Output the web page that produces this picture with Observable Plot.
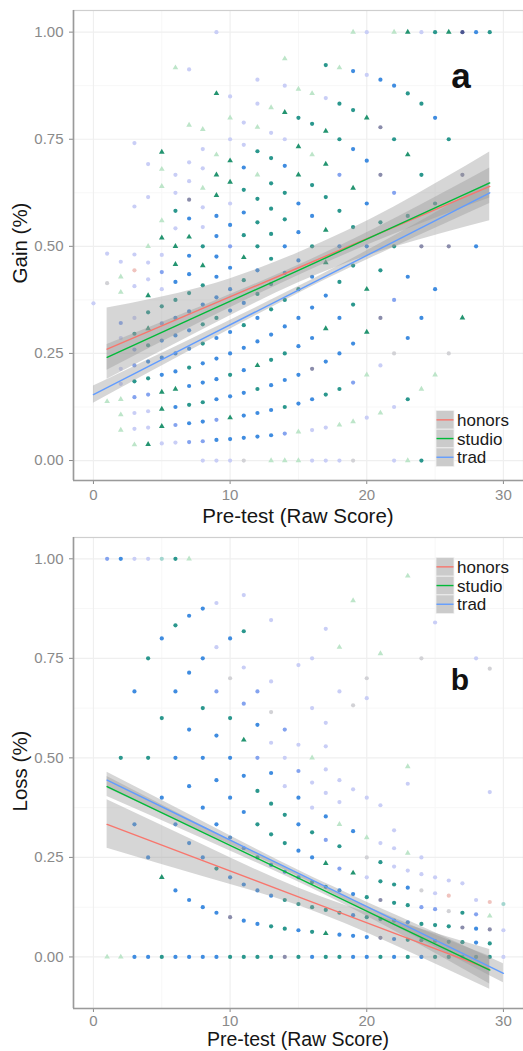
<!DOCTYPE html>
<html><head><meta charset="utf-8">
<script src="https://cdn.jsdelivr.net/npm/d3@7"></script>
<script src="https://cdn.jsdelivr.net/npm/@observablehq/plot@0.6"></script>
<style>
body{margin:0;background:#fff;font-family:"Liberation Sans",Arial,sans-serif}
#wrap{position:relative;width:523px;height:1051px;overflow:hidden}
#wrap svg{display:block}
#over{position:absolute;left:0;top:0;pointer-events:none}
</style></head><body><div id="wrap"></div>
<script>
const xTicks = [0, 10, 20, 30];
const xMinor = [5, 15, 25];
const yTicks = [0, 0.25, 0.5, 0.75, 1];
const yMinor = [0.125, 0.375, 0.625, 0.875];
const groups = ["honors", "studio", "trad"];
const groupColors = ["#F8766D", "#00BA38", "#619CFF"];
// point shade codes (result of overlapping translucent group points)
const shadeCodes = ["B","M","L","T","U","G","F","P","K","R","N"];
const shadeColors = ["#3f8ce0","#84a3ef","#c9cef6","#2a978d","#a3d6cf","#239470","#bde5c9","#8a8cab","#d2d2d6","#f0c3be","#4b5590"];

// Panel a: Gain vs pre-test  [x, y, shade]
const gainPoints = [
[0,0.367,"L"],
[1,0.483,"L"],[1,0.414,"K"],[1,0.138,"F"],
[2,0.464,"L"],[2,0.429,"F"],[2,0.393,"F"],[2,0.321,"M"],[2,0.286,"L"],[2,0.214,"L"],[2,0.179,"L"],[2,0.143,"F"],[2,0.107,"F"],[2,0.071,"F"],
[3,0.741,"L"],[3,0.593,"L"],[3,0.481,"L"],[3,0.444,"R"],[3,0.407,"L"],[3,0.333,"L"],[3,0.296,"T"],[3,0.259,"M"],[3,0.222,"M"],[3,0.185,"T"],[3,0.148,"M"],[3,0.111,"L"],[3,0.074,"L"],[3,0.037,"F"],
[4,0.692,"L"],[4,0.615,"L"],[4,0.5,"F"],[4,0.462,"L"],[4,0.423,"L"],[4,0.385,"G"],[4,0.346,"T"],[4,0.308,"G"],[4,0.269,"T"],[4,0.231,"B"],[4,0.192,"T"],[4,0.154,"M"],[4,0.115,"L"],[4,0.077,"L"],[4,0.038,"G"],
[5,0.72,"G"],[5,0.68,"F"],[5,0.64,"F"],[5,0.56,"F"],[5,0.52,"G"],[5,0.48,"L"],[5,0.44,"M"],[5,0.4,"L"],[5,0.36,"T"],[5,0.32,"M"],[5,0.28,"B"],[5,0.24,"B"],[5,0.2,"B"],[5,0.16,"G"],[5,0.12,"G"],[5,0.08,"G"],[5,0.04,"L"],
[6,0.917,"F"],[6,0.667,"L"],[6,0.625,"L"],[6,0.583,"T"],[6,0.542,"L"],[6,0.5,"G"],[6,0.458,"G"],[6,0.417,"B"],[6,0.375,"T"],[6,0.333,"B"],[6,0.292,"B"],[6,0.25,"B"],[6,0.208,"B"],[6,0.167,"G"],[6,0.125,"B"],[6,0.083,"M"],[6,0.042,"L"],
[7,0.913,"L"],[7,0.783,"F"],[7,0.696,"L"],[7,0.652,"L"],[7,0.609,"P"],[7,0.565,"B"],[7,0.522,"G"],[7,0.478,"B"],[7,0.435,"B"],[7,0.391,"T"],[7,0.348,"B"],[7,0.304,"B"],[7,0.261,"B"],[7,0.217,"T"],[7,0.174,"B"],[7,0.13,"T"],[7,0.087,"B"],[7,0.043,"M"],
[8,0.773,"F"],[8,0.727,"L"],[8,0.682,"L"],[8,0.636,"F"],[8,0.591,"L"],[8,0.545,"L"],[8,0.5,"T"],[8,0.455,"G"],[8,0.409,"T"],[8,0.364,"B"],[8,0.318,"T"],[8,0.273,"T"],[8,0.227,"B"],[8,0.182,"B"],[8,0.136,"T"],[8,0.091,"B"],[8,0.045,"M"],[8,0,"L"],
[9,1,"L"],[9,0.857,"G"],[9,0.714,"F"],[9,0.667,"G"],[9,0.619,"G"],[9,0.571,"B"],[9,0.524,"B"],[9,0.476,"B"],[9,0.429,"B"],[9,0.381,"B"],[9,0.333,"T"],[9,0.286,"B"],[9,0.238,"B"],[9,0.19,"B"],[9,0.143,"B"],[9,0.095,"M"],[9,0.048,"B"],[9,0,"L"],
[10,0.85,"L"],[10,0.8,"F"],[10,0.75,"L"],[10,0.7,"G"],[10,0.65,"G"],[10,0.6,"L"],[10,0.55,"B"],[10,0.5,"M"],[10,0.45,"B"],[10,0.4,"B"],[10,0.35,"B"],[10,0.3,"B"],[10,0.25,"B"],[10,0.2,"T"],[10,0.15,"B"],[10,0.1,"G"],[10,0.05,"B"],[10,0,"L"],
[11,0.789,"L"],[11,0.737,"L"],[11,0.684,"B"],[11,0.632,"T"],[11,0.579,"B"],[11,0.526,"T"],[11,0.474,"G"],[11,0.421,"T"],[11,0.368,"B"],[11,0.316,"T"],[11,0.263,"B"],[11,0.211,"B"],[11,0.158,"B"],[11,0.105,"B"],[11,0.053,"B"],[11,0,"K"],
[12,0.889,"L"],[12,0.833,"L"],[12,0.778,"F"],[12,0.722,"T"],[12,0.667,"F"],[12,0.611,"T"],[12,0.556,"T"],[12,0.5,"T"],[12,0.444,"B"],[12,0.389,"T"],[12,0.333,"B"],[12,0.278,"B"],[12,0.222,"G"],[12,0.167,"T"],[12,0.111,"B"],[12,0.056,"B"],
[13,0.824,"F"],[13,0.765,"L"],[13,0.706,"T"],[13,0.647,"T"],[13,0.588,"T"],[13,0.529,"T"],[13,0.471,"T"],[13,0.412,"T"],[13,0.353,"T"],[13,0.294,"B"],[13,0.235,"T"],[13,0.176,"B"],[13,0.118,"B"],[13,0.059,"B"],[13,0,"F"],
[14,0.938,"F"],[14,0.875,"L"],[14,0.813,"G"],[14,0.75,"L"],[14,0.688,"B"],[14,0.625,"T"],[14,0.563,"T"],[14,0.5,"B"],[14,0.438,"B"],[14,0.375,"T"],[14,0.313,"B"],[14,0.25,"T"],[14,0.188,"B"],[14,0.125,"T"],[14,0.063,"M"],[14,0,"F"],
[15,0.867,"F"],[15,0.8,"T"],[15,0.733,"G"],[15,0.667,"G"],[15,0.6,"B"],[15,0.533,"B"],[15,0.467,"B"],[15,0.4,"T"],[15,0.333,"B"],[15,0.267,"B"],[15,0.2,"B"],[15,0.133,"B"],[15,0.067,"F"],[15,0,"F"],
[16,0.857,"F"],[16,0.786,"T"],[16,0.714,"F"],[16,0.643,"T"],[16,0.571,"B"],[16,0.5,"T"],[16,0.429,"B"],[16,0.357,"B"],[16,0.286,"B"],[16,0.214,"P"],[16,0.143,"B"],[16,0.071,"L"],[16,0,"L"],
[17,0.923,"T"],[17,0.846,"L"],[17,0.769,"G"],[17,0.692,"G"],[17,0.615,"T"],[17,0.538,"G"],[17,0.462,"G"],[17,0.385,"B"],[17,0.308,"G"],[17,0.231,"B"],[17,0.154,"T"],[17,0.077,"L"],[17,0,"L"],
[18,0.917,"F"],[18,0.833,"T"],[18,0.75,"T"],[18,0.667,"M"],[18,0.583,"T"],[18,0.5,"B"],[18,0.417,"T"],[18,0.333,"B"],[18,0.25,"B"],[18,0.167,"T"],[18,0.083,"F"],[18,0,"L"],
[19,1,"F"],[19,0.909,"B"],[19,0.818,"T"],[19,0.727,"B"],[19,0.636,"G"],[19,0.545,"T"],[19,0.455,"T"],[19,0.364,"T"],[19,0.273,"B"],[19,0.182,"M"],[19,0.091,"F"],[19,0,"K"],
[20,1,"L"],[20,0.9,"L"],[20,0.8,"G"],[20,0.7,"B"],[20,0.6,"B"],[20,0.5,"B"],[20,0.4,"G"],[20,0.3,"G"],[20,0.2,"F"],[20,0.1,"L"],
[21,0.889,"B"],[21,0.778,"P"],[21,0.667,"P"],[21,0.556,"T"],[21,0.444,"T"],[21,0.333,"P"],[21,0.222,"L"],[21,0.111,"F"],
[22,1,"F"],[22,0.875,"B"],[22,0.75,"T"],[22,0.625,"M"],[22,0.5,"T"],[22,0.375,"M"],[22,0.25,"K"],[22,0.125,"L"],[22,0,"L"],
[23,1,"G"],[23,0.857,"T"],[23,0.714,"G"],[23,0.571,"T"],[23,0.429,"B"],[23,0.286,"B"],[23,0.143,"T"],[23,0,"F"],
[24,1,"L"],[24,0.833,"T"],[24,0.667,"T"],[24,0.5,"P"],[24,0.333,"B"],[24,0.167,"F"],[24,0,"T"],
[25,1,"T"],[25,0.8,"B"],[25,0.6,"T"],[25,0.4,"B"],[25,0.2,"F"],
[26,1,"G"],[26,0.75,"T"],[26,0.5,"P"],[26,0.25,"K"],
[27,1,"N"],[27,0.667,"P"],[27,0.333,"G"],
[28,1,"B"],[28,0.5,"B"],
[29,1,"T"]
];

// Panel b: Loss vs pre-test  [x, y, shade]
const lossPoints = [
[1,1,"M"],[1,0,"F"],
[2,1,"B"],[2,0.5,"T"],[2,0,"F"],
[3,1,"L"],[3,0.667,"B"],[3,0.333,"B"],[3,0,"B"],
[4,1,"L"],[4,0.75,"T"],[4,0.5,"T"],[4,0.25,"B"],[4,0,"B"],
[5,1,"U"],[5,0.8,"B"],[5,0.6,"T"],[5,0.4,"B"],[5,0.2,"G"],[5,0,"T"],
[6,1,"T"],[6,0.833,"T"],[6,0.667,"B"],[6,0.5,"B"],[6,0.333,"B"],[6,0.167,"B"],[6,0,"B"],
[7,1,"F"],[7,0.857,"B"],[7,0.714,"B"],[7,0.571,"B"],[7,0.429,"B"],[7,0.286,"B"],[7,0.143,"B"],[7,0,"B"],
[8,0.875,"B"],[8,0.75,"B"],[8,0.625,"T"],[8,0.5,"B"],[8,0.375,"B"],[8,0.25,"B"],[8,0.125,"B"],[8,0,"B"],
[9,0.889,"L"],[9,0.778,"L"],[9,0.667,"M"],[9,0.556,"B"],[9,0.444,"B"],[9,0.333,"B"],[9,0.222,"T"],[9,0.111,"B"],[9,0,"B"],
[10,0.8,"B"],[10,0.7,"K"],[10,0.6,"T"],[10,0.5,"B"],[10,0.4,"B"],[10,0.3,"B"],[10,0.2,"B"],[10,0.1,"P"],[10,0,"T"],
[11,0.909,"L"],[11,0.818,"T"],[11,0.727,"L"],[11,0.636,"M"],[11,0.545,"G"],[11,0.455,"B"],[11,0.364,"B"],[11,0.273,"B"],[11,0.182,"B"],[11,0.091,"B"],[11,0,"T"],
[12,0.667,"M"],[12,0.583,"B"],[12,0.5,"M"],[12,0.417,"T"],[12,0.333,"T"],[12,0.25,"T"],[12,0.167,"B"],[12,0.083,"B"],[12,0,"T"],
[13,0.846,"L"],[13,0.692,"L"],[13,0.615,"K"],[13,0.538,"L"],[13,0.462,"B"],[13,0.385,"T"],[13,0.308,"T"],[13,0.231,"B"],[13,0.154,"B"],[13,0.077,"T"],[13,0,"T"],
[14,0.571,"M"],[14,0.5,"L"],[14,0.429,"L"],[14,0.357,"T"],[14,0.286,"T"],[14,0.214,"B"],[14,0.143,"T"],[14,0.071,"T"],[14,0,"P"],
[15,0.733,"L"],[15,0.533,"L"],[15,0.467,"M"],[15,0.4,"B"],[15,0.333,"B"],[15,0.267,"B"],[15,0.2,"B"],[15,0.133,"T"],[15,0.067,"B"],[15,0,"T"],
[16,0.75,"L"],[16,0.625,"L"],[16,0.5,"F"],[16,0.438,"L"],[16,0.375,"L"],[16,0.313,"T"],[16,0.25,"B"],[16,0.188,"T"],[16,0.125,"T"],[16,0.063,"T"],[16,0,"B"],
[17,0.824,"L"],[17,0.588,"L"],[17,0.529,"L"],[17,0.471,"L"],[17,0.412,"L"],[17,0.353,"B"],[17,0.294,"M"],[17,0.235,"G"],[17,0.176,"T"],[17,0.118,"T"],[17,0.059,"G"],[17,0,"T"],
[18,0.778,"F"],[18,0.667,"L"],[18,0.444,"L"],[18,0.389,"L"],[18,0.333,"F"],[18,0.278,"T"],[18,0.222,"M"],[18,0.167,"B"],[18,0.111,"T"],[18,0.056,"B"],[18,0,"T"],
[19,0.895,"F"],[19,0.632,"K"],[19,0.421,"L"],[19,0.316,"B"],[19,0.211,"G"],[19,0.158,"B"],[19,0.105,"B"],[19,0.053,"B"],[19,0,"B"],
[20,0.7,"K"],[20,0.65,"L"],[20,0.4,"L"],[20,0.3,"F"],[20,0.25,"K"],[20,0.2,"L"],[20,0.15,"T"],[20,0.1,"T"],[20,0.05,"B"],[20,0,"B"],
[21,0.762,"F"],[21,0.381,"L"],[21,0.286,"L"],[21,0.238,"T"],[21,0.19,"T"],[21,0.143,"P"],[21,0.095,"T"],[21,0.048,"P"],[21,0,"T"],
[22,0.318,"L"],[22,0.273,"L"],[22,0.227,"L"],[22,0.182,"T"],[22,0.136,"T"],[22,0.091,"T"],[22,0.045,"B"],[22,0,"B"],
[23,0.957,"F"],[23,0.478,"F"],[23,0.435,"L"],[23,0.261,"F"],[23,0.217,"L"],[23,0.174,"B"],[23,0.13,"T"],[23,0.087,"B"],[23,0.043,"T"],[23,0,"T"],
[24,0.75,"K"],[24,0.25,"L"],[24,0.208,"L"],[24,0.167,"K"],[24,0.125,"M"],[24,0.083,"T"],[24,0.042,"T"],[24,0,"B"],
[25,0.84,"L"],[25,0.2,"L"],[25,0.16,"L"],[25,0.12,"M"],[25,0.08,"T"],[25,0.04,"T"],[25,0,"T"],
[26,0.192,"L"],[26,0.154,"R"],[26,0.115,"K"],[26,0.077,"T"],[26,0.038,"T"],[26,0,"T"],
[27,0.185,"L"],[27,0.111,"T"],[27,0.074,"P"],[27,0.037,"T"],[27,0,"B"],
[28,0.75,"L"],[28,0.143,"L"],[28,0.107,"M"],[28,0.071,"B"],[28,0.036,"B"],[28,0,"T"],
[29,0.724,"K"],[29,0.414,"L"],[29,0.138,"R"],[29,0.103,"F"],[29,0.069,"P"],[29,0.034,"T"],[29,0,"T"],
[30,0.133,"U"],[30,0.067,"L"],[30,0,"L"]
];

// Linear fits with confidence band: [group, x, fit, lower, upper]
const gainFit = [
["honors",1,0.26,0.19,0.356],["honors",8,0.355,0.305,0.405],["honors",15,0.45,0.415,0.485],["honors",22,0.545,0.498,0.592],["honors",29,0.64,0.56,0.72],
["studio",1,0.241,0.211,0.271],["studio",8,0.343,0.325,0.361],["studio",15,0.444,0.432,0.456],["studio",22,0.546,0.528,0.564],["studio",29,0.648,0.613,0.683],
["trad",0,0.154,0.134,0.174],["trad",7,0.268,0.255,0.281],["trad",15,0.398,0.39,0.406],["trad",22,0.511,0.498,0.524],["trad",29,0.625,0.60,0.65]
];
const lossFit = [
["honors",1,0.333,0.273,0.395],["honors",8,0.242,0.202,0.282],["honors",15,0.151,0.129,0.173],["honors",22,0.06,0.03,0.09],["honors",29,-0.031,-0.081,0.019],
["studio",1,0.428,0.403,0.453],["studio",8,0.313,0.297,0.329],["studio",15,0.198,0.188,0.208],["studio",22,0.082,0.066,0.098],["studio",29,-0.033,-0.068,0.002],
["trad",1,0.444,0.424,0.464],["trad",8,0.327,0.314,0.340],["trad",15,0.210,0.202,0.218],["trad",22,0.093,0.079,0.107],["trad",30,-0.041,-0.065,-0.017]
];

const xDomain = [-1.46, 31.47];

function panel(points, fit, yDomain, height, mt, mb, xPad) {
  const rows = points.map(([x, y, c]) => ({x, y, c}));
  const fr = fit.map(([g, x, f, lo, hi]) => ({g, x, f, lo, hi}));
  const isTri = r => r.c === "G" || r.c === "F";
  return Plot.plot({
    width: 523, height, marginLeft: 73, marginRight: 0, marginTop: mt, marginBottom: mb,
    style: {fontFamily: '"Liberation Sans", Arial, sans-serif', fontSize: "15px", color: "#8a8a8a", background: "white", overflow: "visible"},
    x: {domain: xDomain, ticks: xTicks, tickSize: 4, tickPadding: xPad, label: null},
    y: {domain: yDomain, ticks: yTicks, tickFormat: d3.format(".2f"), tickSize: 4, tickPadding: 6, label: null},
    color: {domain: shadeCodes, range: shadeColors},
    marks: [
      Plot.ruleX(xMinor, {stroke: "#f7f7f7", strokeWidth: 1}),
      Plot.ruleY(yMinor, {stroke: "#f7f7f7", strokeWidth: 1}),
      Plot.ruleX(xTicks, {stroke: "#efefef", strokeWidth: 1.2}),
      Plot.ruleY(yTicks, {stroke: "#efefef", strokeWidth: 1.2}),
      Plot.frame({stroke: "#cfcfcf", strokeWidth: 1.2}),
      Plot.dot(rows.filter(r => !isTri(r)), {x: "x", y: "y", fill: "c", r: 2.1}),
      Plot.dot(rows.filter(isTri), {x: "x", y: "y", fill: "c", r: 2.1, symbol: "triangle"}),
      Plot.areaY(fr, {x: "x", y1: "lo", y2: "hi", z: "g", fill: "#999999", fillOpacity: 0.4, curve: "natural"}),
      ...groups.map((g, i) => Plot.line(fr.filter(d => d.g === g), {x: "x", y: "f", stroke: groupColors[i], strokeWidth: 1.4})),
      Plot.ruleX([xDomain[0]], {stroke: "#9a9a9a", strokeWidth: 1.6}),
      Plot.ruleY([yDomain[0]], {stroke: "#9a9a9a", strokeWidth: 1.6})
    ]
  });
}

const wrap = document.getElementById("wrap");
wrap.appendChild(panel(gainPoints, gainFit, [-0.0466, 1.0505], 525, 10, 45, 5));
wrap.appendChild(panel(lossPoints, lossFit, [-0.1295, 1.0535], 526, 12, 43, 2.5));

// overlay: axis titles, panel letters, legends
const over = d3.select(wrap).append("svg").attr("id", "over").attr("width", 523).attr("height", 1051)
  .style("font-family", '"Liberation Sans", Arial, sans-serif');
const titles = [
  {t: "Pre-test (Raw Score)", x: 298, y: 522.5, s: 20.5, rot: false},
  {t: "Pre-test (Raw Score)", x: 298, y: 1046.3, s: 19.5, rot: false},
  {t: "Gain (%)", x: 27, y: 243, s: 20.5, rot: true},
  {t: "Loss (%)", x: 27, y: 771, s: 20.5, rot: true}
];
titles.forEach(d => {
  const el = over.append("text").text(d.t).attr("text-anchor", "middle").attr("font-size", d.s).attr("fill", "#151515");
  if (d.rot) el.attr("transform", `translate(${d.x},${d.y}) rotate(-90)`);
  else el.attr("x", d.x).attr("y", d.y);
});
over.append("text").text("a").attr("x", 461).attr("y", 87.5).attr("text-anchor", "middle").attr("font-size", 35).attr("font-weight", "bold").attr("fill", "#111");
over.append("text").text("b").attr("x", 460).attr("y", 690).attr("text-anchor", "middle").attr("font-size", 30).attr("font-weight", "bold").attr("fill", "#111");

function legend(top) {
  groups.forEach((g, i) => {
    const y = top + i * 18.7;
    over.append("rect").attr("x", 436).attr("y", y).attr("width", 18).attr("height", 18.7).attr("fill", "#cbcbcb").attr("stroke", "#f2f2f2").attr("stroke-width", 0.8);
    over.append("line").attr("x1", 436.5).attr("x2", 453.5).attr("y1", y + 9.35).attr("y2", y + 9.35).attr("stroke", groupColors[i]).attr("stroke-width", 1.4);
    over.append("text").text(g).attr("x", 457).attr("y", y + 9.35).attr("dy", "0.36em").attr("font-size", 17).attr("fill", "#1a1a1a");
  });
}
legend(410.5);
legend(557.5);
</script></body></html>
